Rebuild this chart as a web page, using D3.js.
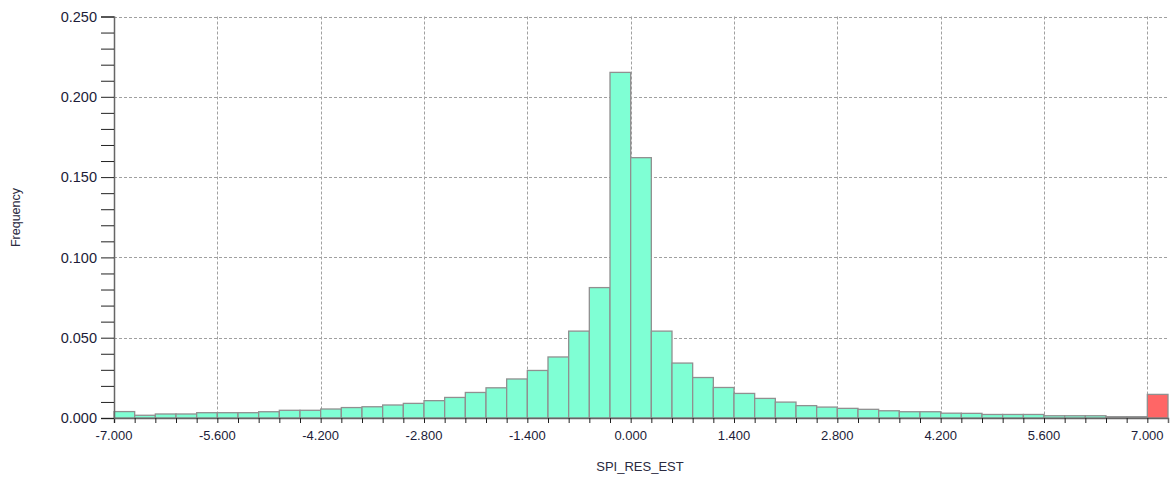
<!DOCTYPE html>
<html>
<head>
<meta charset="utf-8">
<script src="https://cdn.jsdelivr.net/npm/d3@7"></script>
<style>
  html, body { margin: 0; padding: 0; background: #ffffff; }
  svg { display: block; }
</style>
</head>
<body>
<svg id="chart" width="1173" height="478"></svg>
<script>
// ---- data ----
const binStart = -7.0;
const binWidth = 0.28;
const frequencies = [
  0.0040, 0.0017, 0.0025, 0.0025, 0.0033, 0.0033, 0.0033, 0.0039, 0.0048, 0.0048,
  0.0056, 0.0065, 0.0070, 0.0081, 0.0091, 0.0108, 0.0128, 0.0159, 0.0188, 0.0243,
  0.0296, 0.0380, 0.0541, 0.0812, 0.2152, 0.1621, 0.0541, 0.0342, 0.0252, 0.0190,
  0.0153, 0.0122, 0.0099, 0.0077, 0.0068, 0.0060, 0.0054, 0.0045, 0.0039, 0.0039,
  0.0030, 0.0029, 0.0022, 0.0022, 0.0022, 0.0014, 0.0014, 0.0014, 0.0008, 0.0008
];
const overflowValue = [0.0147];
const xTickValues = [-7.0, -5.6, -4.2, -2.8, -1.4, 0.0, 1.4, 2.8, 4.2, 5.6, 7.0];
const yTickValues = [0.000, 0.050, 0.100, 0.150, 0.200, 0.250];
const xTitle = "SPI_RES_EST";
const yTitle = "Frequency";

(function () {
// ---- layout ----
const svg = d3.select("#chart");
const pLeft = 114, pRight = 1168, pTop = 16.5, pBottom = 418;

const x = d3.scaleLinear().domain([-7, 7.28]).range([pLeft, pRight]);
const y = d3.scaleLinear().domain([0, 0.25]).range([pBottom, pTop]);

const fmt = v => d3.format(".3f")(v).replace("\u2212", "-");

// gridlines
const grid = svg.append("g");
grid.selectAll("line.h").data(yTickValues.filter(v => v > 0)).join("line")
  .attr("x1", pLeft).attr("x2", pRight)
  .attr("y1", d => Math.round(y(d)) + 0.5).attr("y2", d => Math.round(y(d)) + 0.5)
  .attr("stroke", "#a0a0a0").attr("stroke-width", 1).attr("stroke-dasharray", "3,2");
grid.selectAll("line.v").data(xTickValues.filter(v => v > -7)).join("line")
  .attr("x1", d => Math.round(x(d)) + 0.5).attr("x2", d => Math.round(x(d)) + 0.5)
  .attr("y1", pTop).attr("y2", pBottom)
  .attr("stroke", "#a0a0a0").attr("stroke-width", 1).attr("stroke-dasharray", "3,2");

// bars
const bins = frequencies.map((v, i) => ({ x0: binStart + i * binWidth, x1: binStart + (i + 1) * binWidth, v }));
svg.append("g").selectAll("rect").data(bins).join("rect")
  .attr("x", d => x(d.x0)).attr("width", d => x(d.x1) - x(d.x0))
  .attr("y", d => y(d.v)).attr("height", d => y(0) - y(d.v))
  .attr("fill", "#7fffd4").attr("stroke", "#909090").attr("stroke-width", 1.3);

const ov = overflowValue.map(v => ({ x0: 7.0, x1: 7.0 + binWidth, v }));
svg.append("g").selectAll("rect").data(ov).join("rect")
  .attr("x", d => x(d.x0)).attr("width", d => x(d.x1) - x(d.x0))
  .attr("y", d => y(d.v)).attr("height", d => y(0) - y(d.v))
  .attr("fill", "#ff6666").attr("stroke", "#909090").attr("stroke-width", 1.3);

// x axis
const xMinor = d3.range(51).map(i => binStart + i * binWidth);
const xAxis = d3.axisBottom(x).tickValues(xMinor).tickSize(5).tickFormat("");
const gx = svg.append("g").attr("transform", `translate(0,${pBottom})`).call(xAxis);
gx.select(".domain").attr("stroke", "#666").attr("stroke-width", 1.5);
gx.selectAll(".tick line").attr("stroke", "#222");
gx.selectAll(".tick text").remove();

svg.append("g").selectAll("text").data(xTickValues).join("text")
  .attr("x", d => x(d)).attr("y", 439.5)
  .attr("text-anchor", "middle")
  .attr("font-family", "'Liberation Sans', Arial, sans-serif")
  .attr("font-size", 13).attr("fill", "#1c1c38")
  .text(d => fmt(d));

// y axis
const yMinor = d3.range(26).map(i => i * 0.01);
const yAxis = d3.axisLeft(y).tickValues(yMinor).tickSize(13).tickFormat("");
const gy = svg.append("g").attr("transform", `translate(${pLeft},0)`).call(yAxis);
gy.select(".domain").attr("stroke", "#666").attr("stroke-width", 1.5);
gy.selectAll(".tick line").attr("stroke", "#222");

svg.append("g").selectAll("text").data(yTickValues).join("text")
  .attr("x", 97).attr("y", d => y(d))
  .attr("dy", "0.36em")
  .attr("text-anchor", "end")
  .attr("font-family", "'Liberation Sans', Arial, sans-serif")
  .attr("font-size", 14.5).attr("fill", "#1c1c38")
  .text(d => fmt(d));

// titles
svg.append("text")
  .attr("x", 640).attr("y", 470.5)
  .attr("text-anchor", "middle")
  .attr("font-family", "'Liberation Sans', Arial, sans-serif")
  .attr("font-size", 13).attr("fill", "#2a2a40")
  .text(xTitle);

svg.append("text")
  .attr("transform", "translate(20,217.5) rotate(-90)")
  .attr("text-anchor", "middle")
  .attr("font-family", "'Liberation Sans', Arial, sans-serif")
  .attr("font-size", 12.5).attr("fill", "#2a2a40")
  .text(yTitle);
})();
</script>
</body>
</html>
